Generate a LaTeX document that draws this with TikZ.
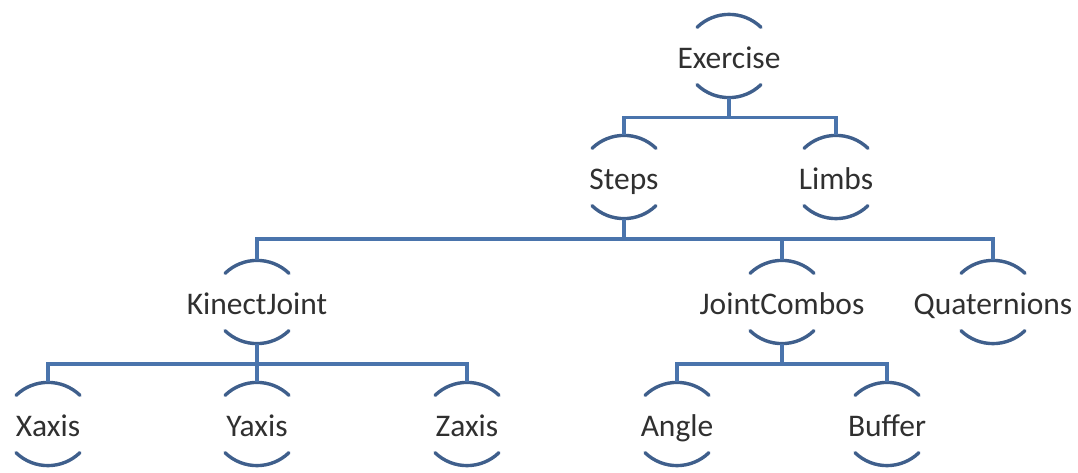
\documentclass[tikz,border=0pt]{standalone}
\usepackage{fontspec}
\setmainfont{Carlito}
\definecolor{arcblue}{HTML}{3F5F8C}
\definecolor{linkblue}{HTML}{4A74AC}
\definecolor{txtgray}{HTML}{303030}
\begin{document}
\begin{tikzpicture}[x=1pt,y=1pt,
  nd/.style={inner sep=0pt, minimum width=64pt, minimum height=83pt,
    text height=25pt, text depth=0pt, text=txtgray,
    font=\fontsize{31.5}{36}\selectfont},
  arcst/.style={draw=arcblue, line width=3.4pt, line cap=round},
  conn/.style={draw=linkblue, line width=3.6pt}]
\useasboundingbox (0,0) rectangle (1078,-473);
\node[nd] (ex) at (729,-56) {Exercise};
\node[nd] (st) at (624,-177) {Steps};
\node[nd] (li) at (836,-177) {Limbs};
\node[nd] (kj) at (257,-302) {KinectJoint};
\node[nd] (jc) at (782,-302) {JointCombos};
\node[nd] (qu) at (993,-302) {Quaternions};
\node[nd] (xa) at (48,-424) {Xaxis};
\node[nd] (ya) at (257,-424) {Yaxis};
\node[nd] (za) at (467,-424) {Zaxis};
\node[nd] (an) at (677,-424) {Angle};
\node[nd] (bu) at (887,-424) {Buffer};
\foreach \n in {ex,st,li,kj,jc,qu,xa,ya,za,an,bu}{
  \draw[arcst] ([xshift=32pt,yshift=-13pt]\n.north) arc[start angle=46,end angle=134,radius=46pt];
  \draw[arcst] ([xshift=-32pt,yshift=13pt]\n.south) arc[start angle=226,end angle=314,radius=46pt];
}
\foreach \p/\c in {ex/st,ex/li,st/kj,st/jc,st/qu,kj/xa,kj/ya,kj/za,jc/an,jc/bu}{
  \draw[conn] (\p.south) -- ++(0,-20) -| (\c.north);
}
\end{tikzpicture}
\end{document}
